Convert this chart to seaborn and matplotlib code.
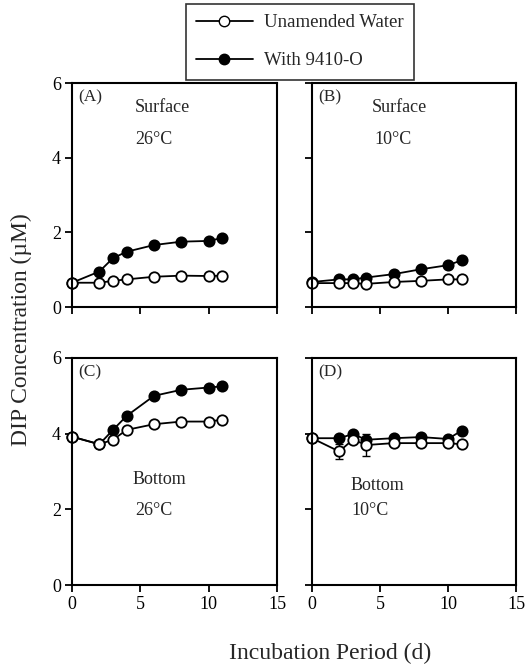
import matplotlib
matplotlib.use("Agg")
import matplotlib.pyplot as plt
import seaborn as sns
import numpy as np
import pandas as pd
from matplotlib.lines import Line2D

sns.set_theme(style="white")
plt.rcParams['font.family'] = ['Liberation Serif', 'DejaVu Serif']
plt.rcParams['mathtext.fontset'] = 'stix'

# ---- data ----
days = [0, 2, 3, 4, 6, 8, 10, 11]
a_unamended = [0.65, 0.65, 0.70, 0.74, 0.81, 0.84, 0.83, 0.84]
a_with = [0.65, 0.95, 1.31, 1.48, 1.66, 1.75, 1.77, 1.85]
b_unamended = [0.64, 0.64, 0.64, 0.62, 0.67, 0.70, 0.74, 0.74]
b_with = [0.67, 0.74, 0.74, 0.79, 0.88, 1.01, 1.12, 1.25]
c_unamended = [3.92, 3.72, 3.84, 4.10, 4.25, 4.32, 4.32, 4.37]
c_with = [3.92, 3.72, 4.10, 4.47, 5.00, 5.16, 5.22, 5.25]
d_unamended = [3.88, 3.53, 3.84, 3.70, 3.75, 3.75, 3.75, 3.72]
d_with = [3.88, 3.88, 3.99, 3.84, 3.88, 3.91, 3.86, 4.08]
d_unamended_err = [0, 0.2, 0, 0.3, 0, 0, 0, 0]

panel_letters = ["(A)", "(B)", "(C)", "(D)"]
panel_depth = ["Surface", "Surface", "Bottom", "Bottom"]
panel_temp = ["26°C", "10°C", "26°C", "10°C"]
series_labels = ["Unamended Water", "With 9410-O"]
x_ticks = [0, 5, 10, 15]
y_ticks = [0, 2, 4, 6]
ylabel = "DIP Concentration (µM)"
xlabel = "Incubation Period (d)"

W, H = 528, 667
fig = plt.figure(figsize=(W / 100, H / 100), dpi=100)

def rect(x0, x1, ytop, ybot):
    return [x0 / W, 1 - ybot / H, (x1 - x0) / W, (ybot - ytop) / H]

ax_pos = [rect(72, 277, 83, 307), rect(312, 516, 83, 307),
          rect(72, 277, 358, 585), rect(312, 516, 358, 585)]
unam = [a_unamended, b_unamended, c_unamended, d_unamended]
withs = [a_with, b_with, c_with, d_with]
depth_xy = [(4.6, 5.35), (4.4, 5.35), (4.46, 2.8), (2.8, 2.62)]
temp_xy = [(4.6, 4.5), (4.6, 4.5), (4.6, 1.96), (2.9, 1.96)]

for i in range(4):
    ax = fig.add_axes(ax_pos[i])
    df = pd.DataFrame({"day": days, "unam": unam[i], "with": withs[i]})
    sns.lineplot(data=df, x="day", y="with", ax=ax, color="black", lw=1.3,
                 marker="o", markersize=7.5, markerfacecolor="black",
                 markeredgecolor="black", markeredgewidth=1.2, clip_on=False)
    if i == 3:
        ax.errorbar(days, d_unamended, yerr=d_unamended_err, fmt="none",
                    ecolor="black", elinewidth=1.0, capsize=3, capthick=1.0)
    sns.lineplot(data=df, x="day", y="unam", ax=ax, color="black", lw=1.3,
                 marker="o", markersize=7.5, markerfacecolor="white",
                 markeredgecolor="black", markeredgewidth=1.3, clip_on=False)
    ax.set_xlim(0, 15)
    ax.set_ylim(0, 6)
    ax.set_xticks(x_ticks)
    ax.set_yticks(y_ticks)
    ax.set_xlabel("")
    ax.set_ylabel("")
    for s in ax.spines.values():
        s.set_visible(True)
        s.set_color("black")
        s.set_linewidth(1.5)
    ax.tick_params(direction="out", length=5, width=1.3, colors="black",
                   labelsize=13, bottom=True, left=True, pad=3)
    if i in (1, 3):
        ax.set_yticklabels([])
    if i in (0, 1):
        ax.set_xticklabels([])
    ax.text(0.03, 0.97, panel_letters[i], transform=ax.transAxes,
            ha="left", va="top", fontsize=12.5)
    ax.text(*depth_xy[i], panel_depth[i], ha="left", va="center", fontsize=13)
    ax.text(*temp_xy[i], panel_temp[i], ha="left", va="center", fontsize=13)

fig.text(21 / W, 1 - 330 / H, ylabel, rotation=90, ha="center", va="center",
         fontsize=17)
fig.text(330 / W, 1 - 653 / H, xlabel, ha="center", va="center", fontsize=17)

handles = [Line2D([], [], color="black", lw=1.3, marker="o", markersize=7.5,
                  markerfacecolor="white", markeredgecolor="black"),
           Line2D([], [], color="black", lw=1.3, marker="o", markersize=7.5,
                  markerfacecolor="black", markeredgecolor="black")]
leg = fig.legend(handles, series_labels, loc="upper left",
                 bbox_to_anchor=(186 / W, 1 - 4 / H), borderaxespad=0,
                 fontsize=13.5, frameon=True, fancybox=False, edgecolor="black",
                 handlelength=3, labelspacing=1.1, borderpad=0.55,
                 handletextpad=0.6)
leg.get_frame().set_linewidth(1.2)

fig.savefig("out.png", dpi=100, facecolor="white")
